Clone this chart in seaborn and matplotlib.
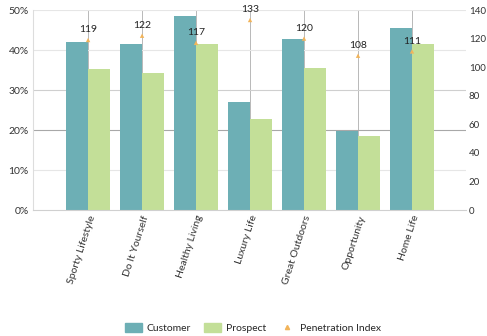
import pandas as pd
import numpy as np
import matplotlib.pyplot as plt
import seaborn as sns
from matplotlib.patches import Patch
from matplotlib.lines import Line2D

segments = ["Sporty Lifestyle", "Do It Yourself", "Healthy Living", "Luxury Life",
            "Great Outdoors", "Opportunity", "Home Life"]
customer = [42.1, 41.6, 48.6, 27.1, 42.7, 19.7, 45.6]
prospect = [35.2, 34.2, 41.4, 22.7, 35.6, 18.4, 41.4]
penetration = [119, 122, 117, 133, 120, 108, 111]

teal = "#6DAFB5"
green = "#C3DF98"
orange = "#F2B45A"

sns.set_style("white")
plt.rcParams["font.family"] = ["Lato", "DejaVu Sans"]

df = pd.DataFrame({
    "segment": segments * 2,
    "value": customer + prospect,
    "group": ["Customer"] * len(segments) + ["Prospect"] * len(segments),
})

fig, ax = plt.subplots(figsize=(4.87, 3.36), dpi=100)
fig.subplots_adjust(left=33/487, right=466/487, top=1-10/336, bottom=1-210/336)

# gridlines behind bars
for i in range(len(segments)):
    ax.axvline(i, color="#b8b8b8", lw=0.7, zorder=0)
grid_cols = {10: "#e6e6e6", 20: "#a8a8a8", 30: "#cfcfcf", 40: "#e6e6e6", 50: "#e6e6e6"}
for v, c in grid_cols.items():
    ax.axhline(v, color=c, lw=0.8, zorder=0)

sns.barplot(data=df, x="segment", y="value", hue="group", palette=[teal, green],
            width=0.8, saturation=1, linewidth=0, ax=ax, zorder=2, legend=False)

ax.set_xlim(-1.02, 7.0)
ax.set_ylim(0, 50)
ax.set_yticks(range(0, 51, 10))
ax.set_yticklabels([f"{v}%" for v in range(0, 51, 10)])
ax.set_xlabel("")
ax.set_ylabel("")
ax.set_xticks(range(len(segments)))
ax.set_xticklabels(segments, rotation=72, ha="right", rotation_mode="anchor")
ax.tick_params(axis="both", length=0, labelsize=7.5, colors="#333333", pad=3)
for s in ax.spines.values():
    s.set_visible(False)
ax.spines["left"].set_visible(True)
ax.spines["left"].set_color("#dddddd")
ax.spines["bottom"].set_visible(True)
ax.spines["bottom"].set_color("#d0d0d0")

ax2 = ax.twinx()
sns.scatterplot(x=list(range(len(segments))), y=penetration, marker="^", color=orange,
                s=10, edgecolor="none", ax=ax2, zorder=3)
for i, v in enumerate(penetration):
    ax2.annotate(str(v), (i, v), xytext=(0, 4), textcoords="offset points",
                 ha="center", va="bottom", fontsize=7.5, color="#222222")
ax2.set_ylim(0, 140)
ax2.set_yticks(range(0, 141, 20))
ax2.tick_params(axis="y", length=0, labelsize=7, colors="#333333", pad=2)
for s in ax2.spines.values():
    s.set_visible(False)

handles = [Patch(color=teal, label="Customer"),
           Patch(color=green, label="Prospect"),
           Line2D([], [], marker="^", color=orange, lw=0, markersize=3,
                  label="Penetration Index")]
fig.legend(handles=handles, loc="lower center", bbox_to_anchor=(0.52, -0.02), ncol=3,
           frameon=False, fontsize=7.5, handlelength=1.6, handleheight=1.0,
           columnspacing=1.2, handletextpad=0.5)

fig.savefig("out.png", dpi=100)
